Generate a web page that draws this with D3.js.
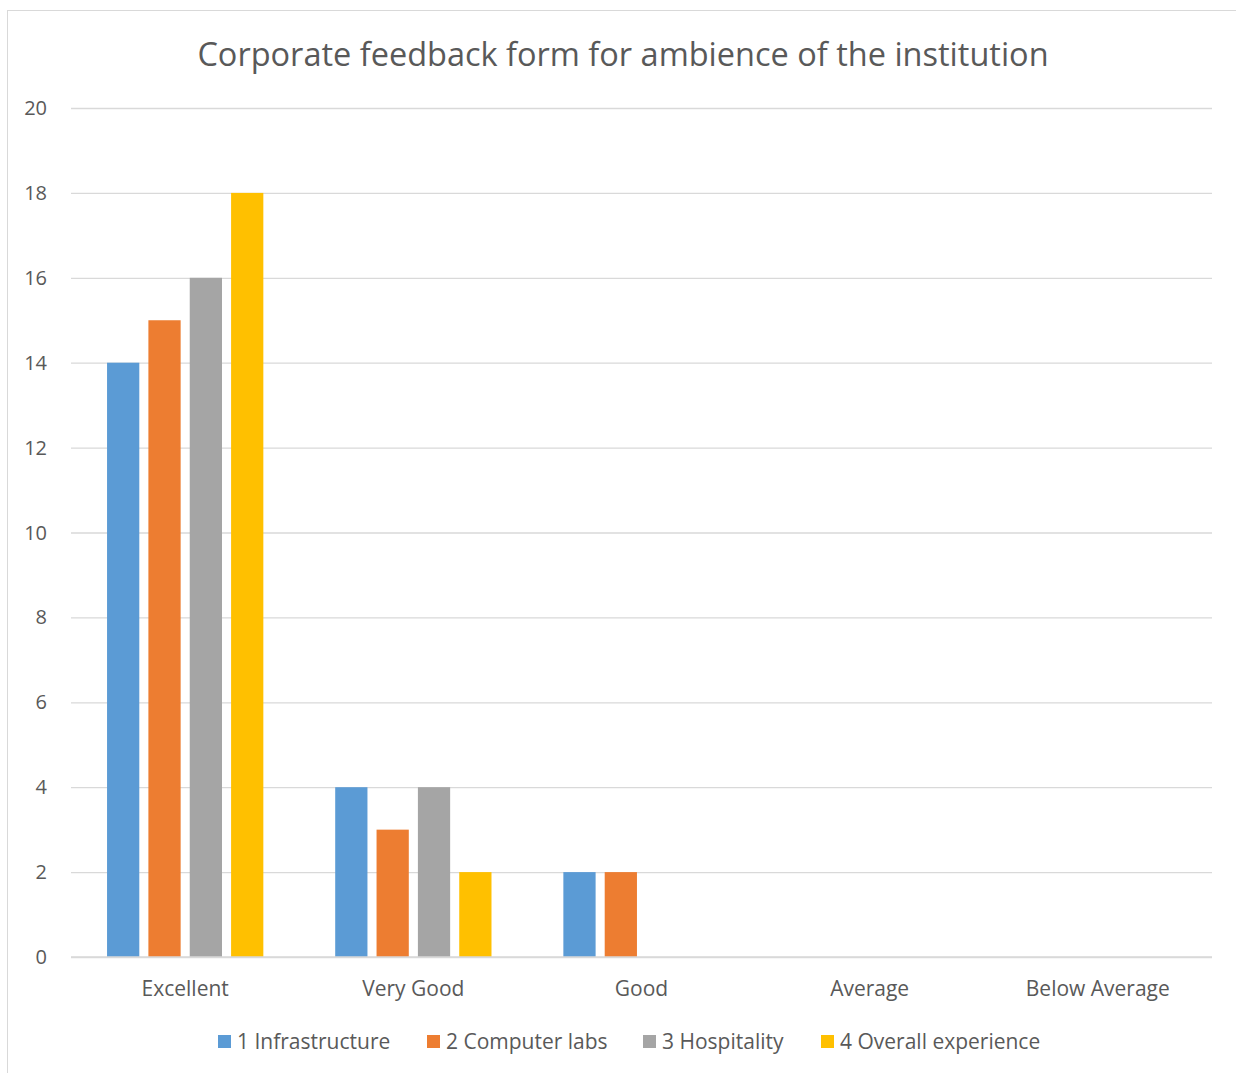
<!DOCTYPE html>
<html>
<head>
<meta charset="utf-8">
<script src="https://cdn.jsdelivr.net/npm/d3@7"></script>
<style>
  body { margin: 0; background: #fff; }
  text { font-family: "Open Sans", "Noto Sans", sans-serif; fill: #595959; }
</style>
</head>
<body>
<svg id="chart" width="1236" height="1073"></svg>
<script>
// chart data
const categories = ["Excellent", "Very Good", "Good", "Average", "Below Average"]
const seriesNames = ["1 Infrastructure", "2 Computer labs", "3 Hospitality", "4 Overall experience"]
const infrastructure = [14, 4, 2, 0, 0]
const computerLabs = [15, 3, 2, 0, 0]
const hospitality = [16, 4, 0, 0, 0]
const overall = [18, 2, 0, 0, 0]
const yTicks = [0, 2, 4, 6, 8, 10, 12, 14, 16, 18, 20]
const colors = ["#5B9BD5", "#ED7D31", "#A5A5A5", "#FFC000"]

const seriesValues = [infrastructure, computerLabs, hospitality, overall]

const svg = d3.select("#chart")
const MARGIN = { left: 71, right: 1212, top: 108, bottom: 957 }

// outer frame
svg.append("rect")
  .attr("x", 7.5).attr("y", 10.5)
  .attr("width", 1240).attr("height", 1080)
  .attr("fill", "none").attr("stroke", "#d9d9d9")

svg.append("text")
  .attr("x", 623).attr("y", 66)
  .attr("text-anchor", "middle")
  .style("font-size", "32.5px")
  .text("Corporate feedback form for ambience of the institution")

let x = d3.scaleBand().domain(categories).range([MARGIN.left, MARGIN.right]).paddingInner(0.315).paddingOuter(0.158)
let xs = d3.scaleBand().domain(d3.range(seriesNames.length)).range([0, x.bandwidth()]).paddingInner(0.22)
let y = d3.scaleLinear().domain([0, 20]).range([MARGIN.bottom, MARGIN.top])

// grid
svg.append("g")
  .attr("transform", `translate(${MARGIN.left},0)`)
  .call(d3.axisLeft(y).tickValues(yTicks).tickSize(-(MARGIN.right - MARGIN.left)).tickFormat(""))
  .call(g => g.select(".domain").remove())
  .selectAll("line").attr("stroke", "#d9d9d9").attr("stroke-width", 1.3)

// y labels
svg.append("g")
  .selectAll("text").data(yTicks).join("text")
  .attr("x", 47).attr("y", d => y(d)).attr("dy", "0.35em")
  .attr("text-anchor", "end")
  .style("font-size", "20px")
  .text(d => d)

// bars
categories.forEach((c, ci) => {
  seriesValues.forEach((vals, si) => {
    if (vals[ci] === 0) return
    svg.append("rect")
      .attr("x", x(c) + xs(si))
      .attr("y", y(vals[ci]))
      .attr("width", xs.bandwidth())
      .attr("height", y(0) - y(vals[ci]))
      .attr("fill", colors[si])
  })
})

// baseline redrawn on top
svg.append("line")
  .attr("x1", MARGIN.left).attr("x2", MARGIN.right)
  .attr("y1", y(0)).attr("y2", y(0))
  .attr("stroke", "#d9d9d9").attr("stroke-width", 1.3)

// x labels
svg.append("g")
  .selectAll("text").data(categories).join("text")
  .attr("x", d => x(d) + x.bandwidth() / 2).attr("y", 996)
  .attr("text-anchor", "middle")
  .style("font-size", "21px")
  .text(d => d)

// legend
const legendX = [218, 427, 643, 821]
const legend = svg.append("g")
seriesNames.forEach((name, i) => {
  legend.append("rect")
    .attr("x", legendX[i]).attr("y", 1035)
    .attr("width", 13).attr("height", 13)
    .attr("fill", colors[i])
  legend.append("text")
    .attr("x", legendX[i] + 19).attr("y", 1049)
    .style("font-size", "21px")
    .text(name)
})
</script>
</body>
</html>
